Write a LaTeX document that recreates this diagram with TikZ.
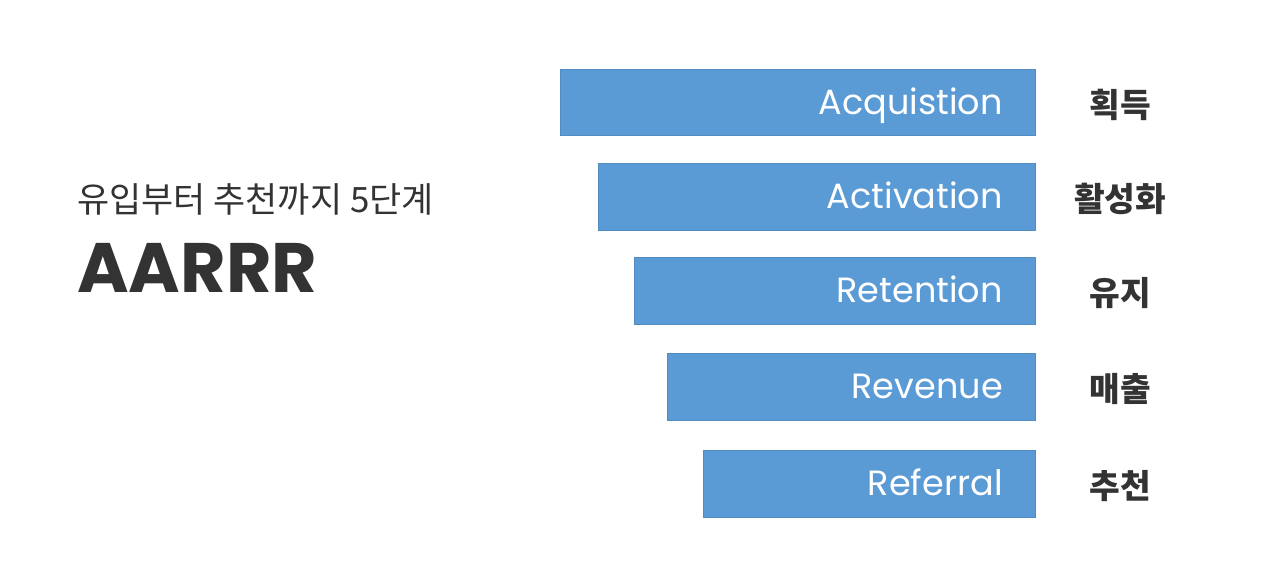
\documentclass[tikz,border=0pt]{standalone}
\usepackage{fontspec}
\setmainfont{Poppins}
\newfontfamily\kr{Noto Sans CJK KR}
\definecolor{barblue}{HTML}{5B9BD5}
\definecolor{ink}{HTML}{333333}

\begin{document}
\begin{tikzpicture}[x=0.75pt,y=-0.75pt,
	bar/.style={fill=barblue, draw=barblue!90!black, line width=0.3pt},
	barlabel/.style={anchor=base east, text=white, inner sep=0pt, font=\fontsize{26.3}{26.3}\selectfont},
	kor/.style={anchor=base, text=ink, inner sep=0pt, font=\kr\bfseries\fontsize{25}{25}\selectfont}]
		\useasboundingbox[fill=white] (0,0) rectangle (1280,585);
		%Titulo a la izquierda
		\node[anchor=base west, inner sep=0pt, text=ink, font=\kr\fontsize{26.2}{26.2}\selectfont] (subtitle) at (77,212) {유입부터 추천까지 5단계};
		\node[anchor=base west, inner sep=0pt, text=ink, font=\bfseries\fontsize{52.5}{52.5}\selectfont] (aarrr) at (77,292) {AARRR};
		%Barras
		\draw[bar] (560,69) rectangle (1035,135);
		\draw[bar] (598,163) rectangle (1035,230);
		\draw[bar] (634,257) rectangle (1035,324);
		\draw[bar] (667,353) rectangle (1035,420);
		\draw[bar] (703,450) rectangle (1035,517);
		\node[barlabel] (acq) at (1003,114) {Acquistion};
		\node[barlabel] (act) at (1003,208) {Activation};
		\node[barlabel] (ret) at (1003,302) {Retention};
		\node[barlabel] (rev) at (1003,398) {Revenue};
		\node[barlabel] (ref) at (1003,495) {Referral};
		%Etiquetas en coreano
		\node[kor] (acqkr) at (1120,117) {획득};
		\node[kor] (actkr) at (1120,211) {활성화};
		\node[kor] (retkr) at (1120,305) {유지};
		\node[kor] (revkr) at (1120,401) {매출};
		\node[kor] (refkr) at (1120,498) {추천};
	\end{tikzpicture}
\end{document}
